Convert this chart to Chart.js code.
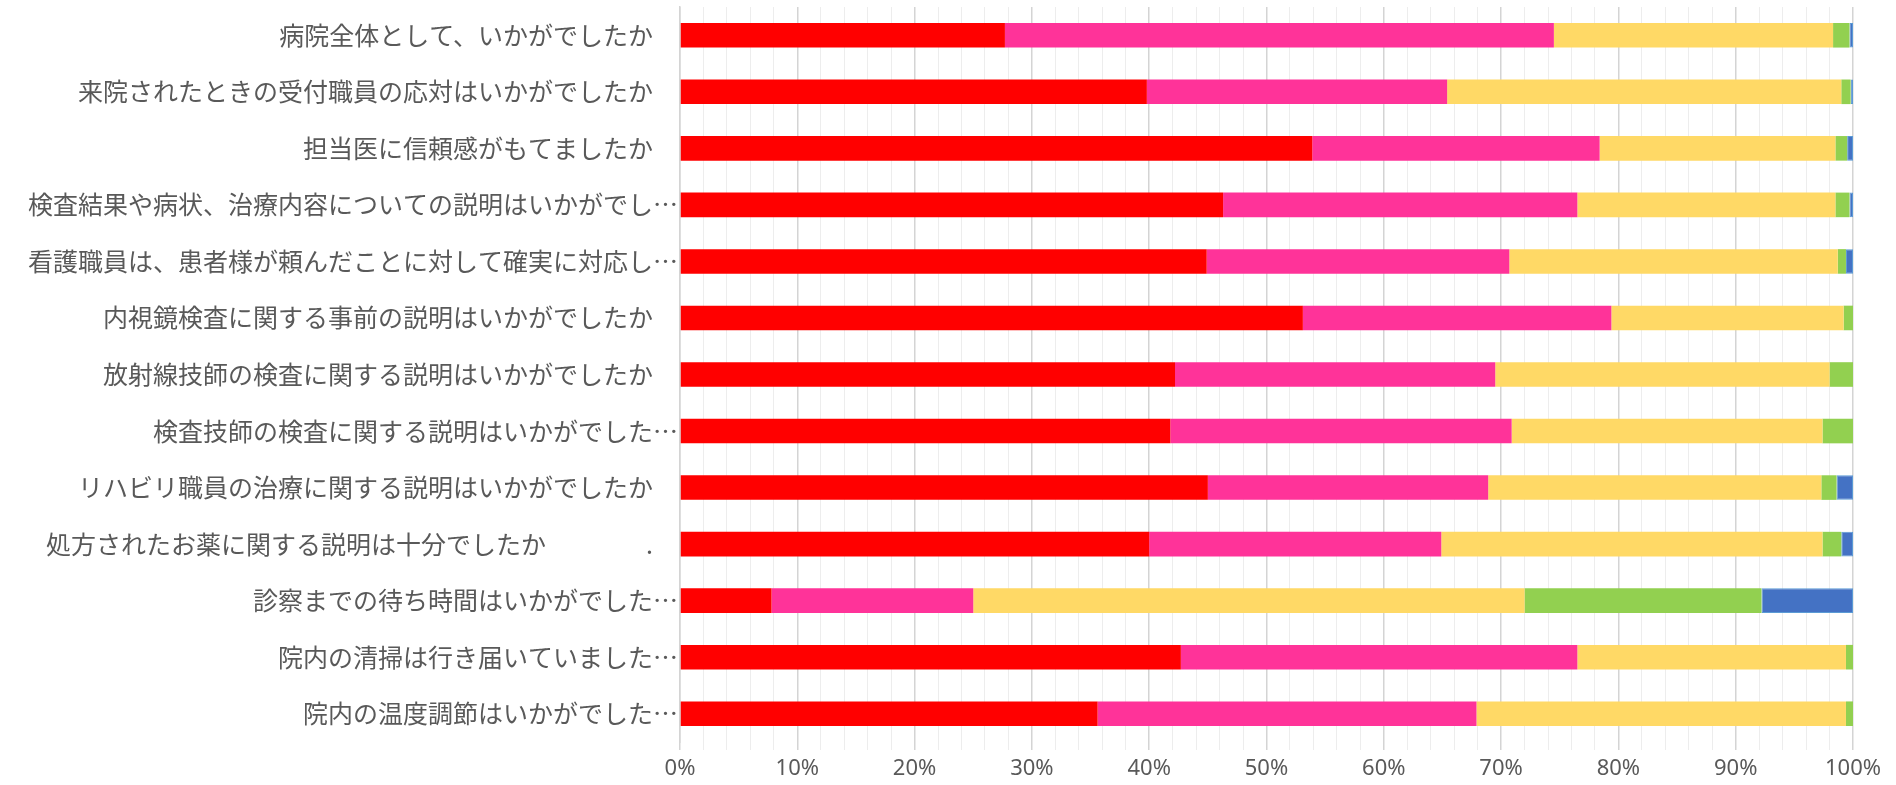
<!DOCTYPE html>
<html lang="ja">
<head>
<meta charset="utf-8">
<title>満足度調査</title>
<script src="https://cdn.jsdelivr.net/npm/chart.js@4.4.1/dist/chart.umd.min.js"></script>
<style>
    html, body { margin: 0; padding: 0; background: #fff; }
    #wrap { width: 1896px; height: 785px; }
</style>
</head>
<body>
<div id="wrap"><canvas id="surveyChart"></canvas></div>
<script>
// question labels (full-width space at the end keeps the gap Excel leaves)
const questions = [
    '病院全体として、いかがでしたか　',
    '来院されたときの受付職員の応対はいかがでしたか　',
    '担当医に信頼感がもてましたか　',
    '検査結果や病状、治療内容についての説明はいかがでし…',
    '看護職員は、患者様が頼んだことに対して確実に対応し…',
    '内視鏡検査に関する事前の説明はいかがでしたか　',
    '放射線技師の検査に関する説明はいかがでしたか　',
    '検査技師の検査に関する説明はいかがでした…',
    'リハビリ職員の治療に関する説明はいかがでしたか　',
    '処方されたお薬に関する説明は十分でしたか　　　　.　',
    '診察までの待ち時間はいかがでした…',
    '院内の清掃は行き届いていました…',
    '院内の温度調節はいかがでした…'
];

// answer shares in %
const satisfied     = [27.7, 39.8, 53.9, 46.3, 44.9, 53.1, 42.2, 41.8, 45.0, 40.0,  7.8, 42.7, 35.6];
const ratherGood    = [46.8, 25.6, 24.5, 30.2, 25.8, 26.3, 27.3, 29.1, 23.9, 24.9, 17.2, 33.8, 32.3];
const neutral       = [23.8, 33.6, 20.1, 22.0, 28.0, 19.8, 28.5, 26.5, 28.4, 32.5, 47.0, 22.9, 31.5];
const ratherBad     = [ 1.4,  0.8,  1.0,  1.2,  0.7,  0.8,  2.0,  2.6,  1.3,  1.6, 20.2,  0.6,  0.6];
const dissatisfied  = [ 0.3,  0.2,  0.5,  0.3,  0.6,  0.0,  0.0,  0.0,  1.4,  1.0,  7.8,  0.0,  0.0];

const textColor = '#595959';

new Chart(document.getElementById('surveyChart'), {
    type: 'bar',
    data: {
        labels: questions,
        datasets: [
            { label: '満足', data: satisfied, backgroundColor: '#FF0000' },
            { label: 'やや満足', data: ratherGood, backgroundColor: '#FF3399' },
            { label: '普通', data: neutral, backgroundColor: '#FFD966' },
            { label: 'やや不満', data: ratherBad, backgroundColor: '#92D050' },
            { label: '不満', data: dissatisfied, backgroundColor: '#4472C4', borderColor: '#5B9BD5', borderWidth: 1 }
        ]
    },
    options: {
        indexAxis: 'y',
        responsive: true,
        maintainAspectRatio: false,
        animation: false,
        datasets: {
            bar: { categoryPercentage: 1, barPercentage: 0.435, borderSkipped: false }
        },
        layout: { padding: { top: 7, right: 43, bottom: 0, left: 0 } },
        plugins: {
            legend: { display: false },
            tooltip: { enabled: false }
        },
        scales: {
            x: {
                stacked: true,
                min: 0,
                max: 100,
                border: { display: false },
                grid: {
                    color: ctx => (ctx.tick && ctx.tick.value % 10 === 0) ? '#D4D4D4' : '#EDEDED',
                    lineWidth: ctx => (ctx.tick && ctx.tick.value % 10 === 0) ? 1.5 : 1,
                    tickLength: 8
                },
                ticks: {
                    stepSize: 2,
                    autoSkip: false,
                    maxRotation: 0,
                    padding: 8,
                    color: textColor,
                    font: { family: '"Noto Sans", sans-serif', size: 22, lineHeight: 1 },
                    callback: v => v % 10 === 0 ? v + '%' : ''
                },
                afterFit: scale => { scale.height = 43; }
            },
            y: {
                stacked: true,
                border: { display: true, color: '#D4D4D4', width: 1.5 },
                grid: { display: false, drawTicks: false },
                ticks: {
                    padding: 2,
                    autoSkip: false,
                    color: textColor,
                    font: { family: '"Noto Sans CJK JP", sans-serif', size: 25, lineHeight: 0.4 }
                },
                afterFit: scale => { scale.width = 680; }
            }
        }
    }
});
</script>
</body>
</html>
